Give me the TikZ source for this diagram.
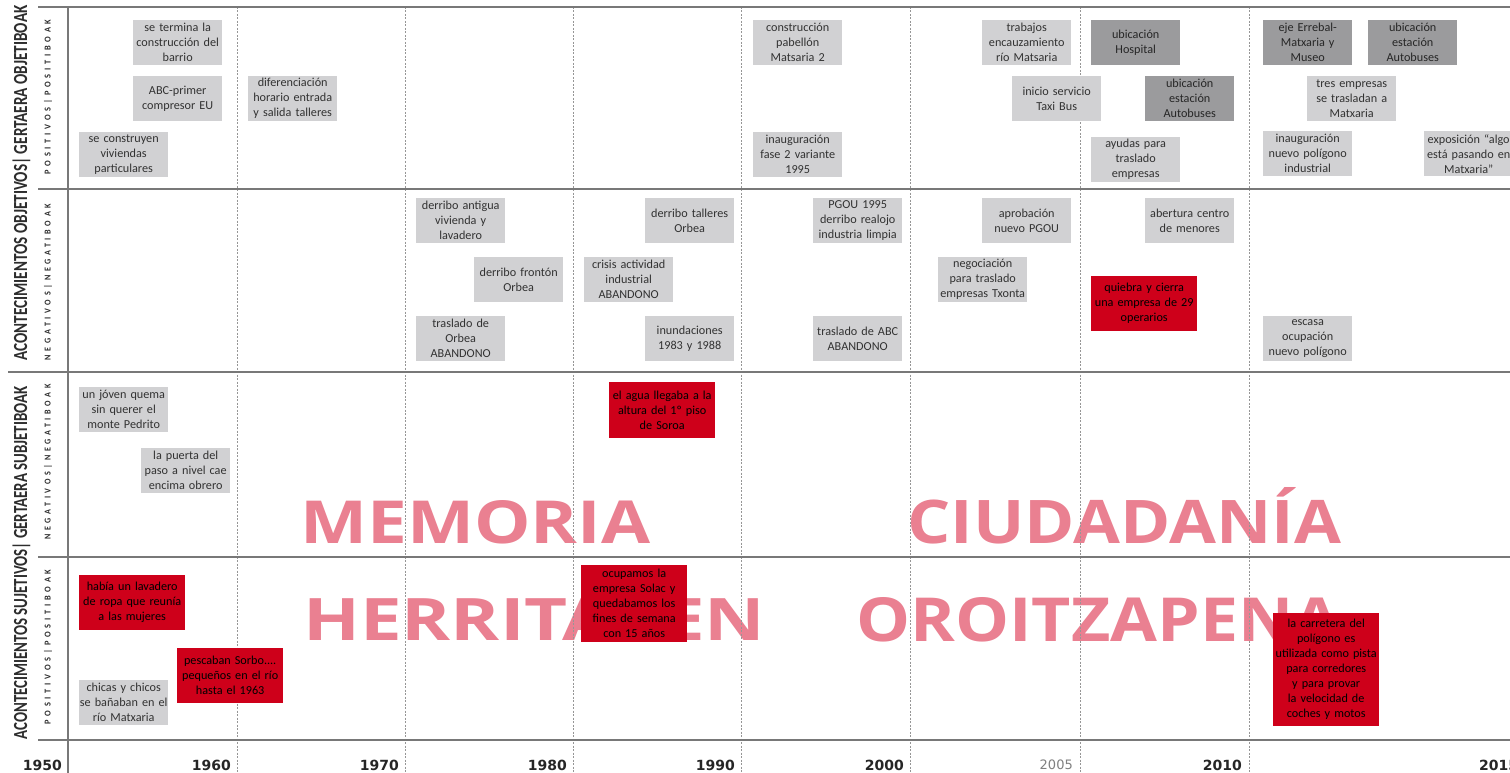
\documentclass[tikz,border=0pt]{standalone}
\usepackage{fontspec}
\usepackage{graphicx}
\setmainfont{Carlito}
\newfontfamily\wmfont{Open Sans}
\newfontfamily\yearfont{DejaVu Sans}
\newfontfamily\spacedfont[LetterSpace=45]{Carlito}
\definecolor{evgray}{RGB}{209,209,211}
\definecolor{evdark}{RGB}{155,155,157}
\definecolor{evred}{RGB}{206,0,26}
\definecolor{evtxt}{RGB}{50,50,50}
\definecolor{rulecol}{RGB}{120,120,120}
\definecolor{dotcol}{RGB}{150,150,150}
\definecolor{wmpink}{RGB}{234,128,145}
\definecolor{labtxt}{RGB}{45,45,45}
\tikzset{
  ev/.style={fill=evgray, text=evtxt, inner sep=0pt, align=center, anchor=north west,
    font=\fontsize{12.2}{15}\selectfont, text width=89pt, minimum height=45pt},
  evd/.style={ev, fill=evdark, text=black!85},
  evr/.style={fill=evred, inner sep=0pt, align=center, anchor=north west,
    font=\fontsize{12.2}{15}\selectfont\color{black}},
  box/.style n args={2}{text width=#1pt, minimum height=#2pt},
  hrule/.style={draw=rulecol, line width=1.8pt},
  vrule/.style={draw=rulecol, line width=1.5pt},
  grid/.style={draw=dotcol, line width=0.8pt, dash pattern=on 2pt off 1.5pt},
  wm/.style={text=wmpink, inner sep=0pt, anchor=base west, font=\wmfont\bfseries},
  year/.style={inner sep=0pt, anchor=east, font=\yearfont\bfseries\fontsize{14}{14}\selectfont, text=black!85},
  biglab/.style={rotate=90, inner sep=0pt, text=labtxt},
  smalllab/.style={rotate=90, inner sep=0pt, text=labtxt}
}
\begin{document}
\begin{tikzpicture}[x=1pt,y=-1pt]
\useasboundingbox (0,0) rectangle (1510,773);
\fill[white] (0,0) rectangle (1510,773);

% watermark (under the grid lines, which show through it)
\node[wm] (wm1) at (300,543) {\resizebox{350pt}{43pt}{MEMORIA}};
\node[wm] (wm2) at (907,543) {\resizebox{434pt}{56pt}{CIUDADANÍA}};
\node[wm] (wm3) at (303,640) {\resizebox{462pt}{42pt}{HERRITAREN}};
\node[wm] (wm4) at (856,641) {\resizebox{484pt}{44pt}{OROITZAPENA}};

% grid lines
\foreach \xx in {237,405,573,741,910,1080,1249}
  \draw[grid] (\xx,7) -- (\xx,773);
\draw[vrule] (68,7) -- (68,773);
\draw[hrule] (38,7) -- (1510,7);
\draw[hrule] (38,189) -- (1510,189);
\draw[hrule] (8,372) -- (1510,372);
\draw[hrule] (38,557) -- (1510,557);
\draw[hrule] (38,740) -- (1510,740);

% side labels
\node[biglab] (labO) at (21.5,183) {\resizebox{355pt}{\height}{\fontsize{20}{20}\selectfont\bfseries ACONTECIMIENTOS OBJETIVOS| GERTAERA OBJETIBOAK}};
\node[biglab] (labS) at (21.5,563) {\resizebox{353pt}{\height}{\fontsize{20}{20}\selectfont\bfseries ACONTECIMIENTOS SUJETIVOS| GERTAERA SUBJETIBOAK}};
\node[smalllab] (labOP) at (48,97) {\resizebox{155pt}{\height}{\fontsize{9}{9}\selectfont\spacedfont\bfseries POSITIVOS|POSITIBOAK}};
\node[smalllab] (labON) at (48,282) {\resizebox{156pt}{\height}{\fontsize{9}{9}\selectfont\spacedfont\bfseries NEGATIVOS|NEGATIBOAK}};
\node[smalllab] (labSN) at (48,462) {\resizebox{155pt}{\height}{\fontsize{9}{9}\selectfont\spacedfont\bfseries NEGATIVOS|NEGATIBOAK}};
\node[smalllab] (labSP) at (48,647) {\resizebox{155pt}{\height}{\fontsize{9}{9}\selectfont\spacedfont\bfseries POSITIVOS|POSITIBOAK}};

% positive objective
\node[ev] (p1) at (133,20) {se termina la\\construcción del\\barrio};
\node[ev] (p2) at (133,76) {ABC-primer\\compresor EU};
\node[ev] (p3) at (79,132) {se construyen\\viviendas\\particulares};
\node[ev] (p4) at (248,76) {diferenciación\\horario entrada\\y salida talleres};
\node[ev] (p5) at (753,20) {construcción\\pabellón\\Matsaria 2};
\node[ev] (p6) at (753,132) {inauguración\\fase 2 variante\\1995};
\node[ev] (p7) at (982,20) {trabajos\\encauzamiento\\río Matsaria};
\node[evd] (p8) at (1091,20) {ubicación\\Hospital};
\node[ev] (p9) at (1012,76) {inicio servicio\\Taxi Bus};
\node[evd] (p10) at (1145,76) {ubicación\\estación\\Autobuses};
\node[ev] (p11) at (1091,137) {ayudas para\\traslado\\empresas};
\node[evd] (p12) at (1263,20) {eje Errebal-\\Matxaria y\\Museo};
\node[evd] (p13) at (1368,20) {ubicación\\estación\\Autobuses};
\node[ev] (p14) at (1307,76) {tres empresas\\se trasladan a\\Matxaria};
\node[ev] (p15) at (1263,131) {inauguración\\nuevo polígono\\industrial};
\node[ev] (p16) at (1424,131) {exposición “algo\\está pasando en\\Matxaria”};

% negative objective
\node[ev] (n1) at (416,198) {derribo antigua\\vivienda y\\lavadero};
\node[ev] (n2) at (474,257) {derribo frontón\\Orbea};
\node[ev] (n3) at (416,316) {traslado de\\Orbea\\ABANDONO};
\node[ev] (n4) at (645,198) {derribo talleres\\Orbea};
\node[ev] (n5) at (584,257) {crisis actividad\\industrial\\ABANDONO};
\node[ev] (n6) at (645,316) {inundaciones\\1983 y 1988};
\node[ev] (n7) at (813,198) {PGOU 1995\\derribo realojo\\industria limpia};
\node[ev] (n8) at (813,316) {traslado de ABC\\ABANDONO};
\node[ev] (n9) at (982,198) {aprobación\\nuevo PGOU};
\node[ev] (n10) at (1145,198) {abertura centro\\de menores};
\node[ev] (n11) at (938,257) {negociación\\para traslado\\empresas Txonta};
\node[evr, box={106}{55}] (n12) at (1091,276) {quiebra y cierra\\una empresa de 29\\operarios};
\node[ev] (n13) at (1263,316) {escasa\\ocupación\\nuevo polígono};

% negative subjective
\node[ev] (s1) at (79,387) {un jóven quema\\sin querer el\\monte Pedrito};
\node[ev] (s2) at (141,448) {la puerta del\\paso a nivel cae\\encima obrero};
\node[evr, box={106}{56}] (s3) at (609,382) {el agua llegaba a la\\altura del 1º piso\\de Soroa};

% positive subjective
\node[evr, box={106}{55}] (s4) at (79,575) {había un lavadero\\de ropa que reunía\\a las mujeres};
\node[evr, box={106}{55}] (s5) at (177,648) {pescaban Sorbo....\\pequeños en el río\\hasta el 1963};
\node[ev] (s6) at (79,680) {chicas y chicos\\se bañaban en el\\río Matxaria};
\node[evr, box={106}{77}] (s7) at (581,565) {ocupamos la\\empresa Solac y\\quedabamos los\\fines de semana\\con 15 años};
\node[evr, box={106}{113}] (s8) at (1273,613) {la carretera del\\polígono es\\utilizada como pista\\para corredores\\y para provar\\la velocidad de\\coches y motos};

% years
\node[year] (y1950) at (62,765) {1950};
\node[year] (y1960) at (231,765) {1960};
\node[year] (y1970) at (399,765) {1970};
\node[year] (y1980) at (567,765) {1980};
\node[year] (y1990) at (735,765) {1990};
\node[year] (y2000) at (904,765) {2000};
\node[year, font=\yearfont\fontsize{13}{13}\selectfont, text=black!50] (y2005) at (1073,765) {2005};
\node[year] (y2010) at (1242,765) {2010};
\node[year, anchor=west] (y2015) at (1479,765) {2015};
\end{tikzpicture}
\end{document}
